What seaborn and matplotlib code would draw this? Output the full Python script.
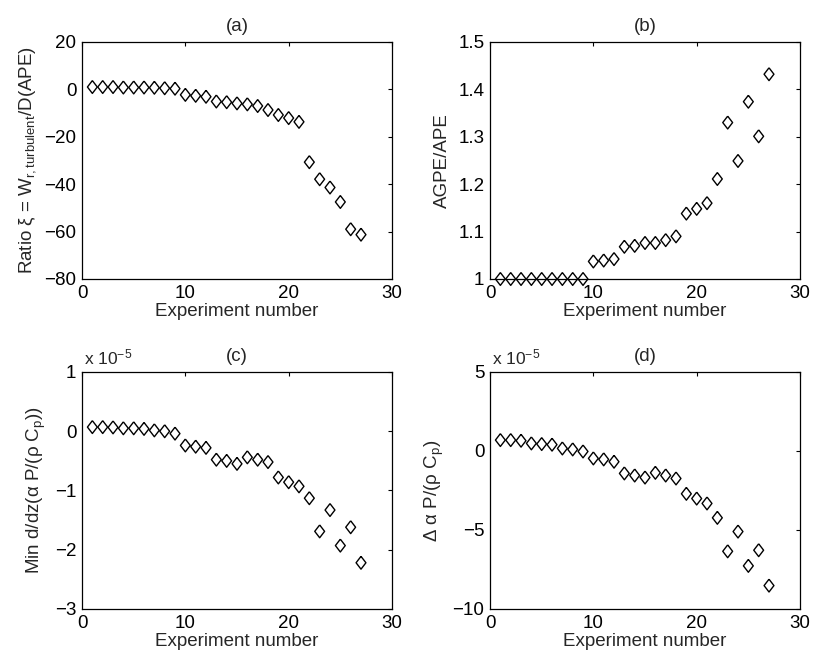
import matplotlib
matplotlib.use("Agg")
import matplotlib.pyplot as plt
import seaborn as sns
import pandas as pd
from matplotlib.ticker import FuncFormatter

# experiment numbers
experiments = list(range(1, 28))

# (a) ratio xi
ratio_xi = [1.0, 1.0, 1.0, 0.8, 0.8, 0.8, 0.7, 0.5, 0.3, -2.3, -2.7, -3.1, -5.1, -5.4,
            -5.9, -6.3, -7.0, -8.7, -10.8, -12.1, -13.7, -30.7, -37.9, -41.4, -47.5, -59.0, -61.3]

# (b) AGPE/APE
agpe_ape = [1.0, 1.0, 1.0, 1.0, 1.0, 1.0, 1.0, 1.0, 1.0, 1.037, 1.039, 1.042, 1.068, 1.070,
            1.076, 1.076, 1.082, 1.090, 1.138, 1.148, 1.160, 1.211, 1.330, 1.249, 1.374, 1.301, 1.432]

# (c) min d/dz(alpha P/(rho Cp))
min_dz = [0.07e-5, 0.07e-5, 0.065e-5, 0.05e-5, 0.05e-5, 0.04e-5, 0.015e-5, 0.0, -0.04e-5,
          -0.24e-5, -0.26e-5, -0.28e-5, -0.48e-5, -0.50e-5, -0.55e-5, -0.44e-5, -0.48e-5,
          -0.52e-5, -0.78e-5, -0.86e-5, -0.93e-5, -1.13e-5, -1.69e-5, -1.33e-5, -1.93e-5,
          -1.62e-5, -2.22e-5]

# (d) delta alpha P/(rho Cp)
delta_ap = [0.69e-5, 0.69e-5, 0.65e-5, 0.48e-5, 0.44e-5, 0.40e-5, 0.16e-5, 0.10e-5, -0.03e-5,
            -0.47e-5, -0.53e-5, -0.68e-5, -1.42e-5, -1.55e-5, -1.68e-5, -1.38e-5, -1.55e-5,
            -1.74e-5, -2.71e-5, -3.01e-5, -3.32e-5, -4.23e-5, -6.35e-5, -5.10e-5, -7.27e-5,
            -6.28e-5, -8.52e-5]

sns.set_style("white")
plt.rcParams['font.family'] = ['Liberation Sans', 'DejaVu Sans']
plt.rcParams['mathtext.fontset'] = 'custom'
plt.rcParams['mathtext.rm'] = 'Liberation Sans'
plt.rcParams['mathtext.it'] = 'Liberation Sans:italic'
plt.rcParams['mathtext.sf'] = 'Liberation Sans'

FS = 13.5
diamond = [(0, 1.3), (1, 0), (0, -1.3), (-1, 0), (0, 1.3)]


def fmt(scale):
    # matlab style labels: %g and a real minus sign
    return FuncFormatter(lambda v, p: ('%g' % round(v / scale, 6)).replace('-', '\u2212'))


fig, axes = plt.subplots(2, 2, figsize=(8.17, 6.61), dpi=100)
fig.subplots_adjust(left=0.1004, right=0.9792, bottom=0.0787, top=0.9365,
                    wspace=0.3163, hspace=0.3924)

panels = [
    (axes[0, 0], ratio_xi, '(a)', 'Ratio \u03be = W$_{\\rm r,turbulent}$/D(APE)', (-80, 20), [-80, -60, -40, -20, 0, 20], 1.0),
    (axes[0, 1], agpe_ape, '(b)', 'AGPE/APE', (1.0, 1.5), [1.0, 1.1, 1.2, 1.3, 1.4, 1.5], 1.0),
    (axes[1, 0], min_dz, '(c)', 'Min d/dz(\u03b1 P/(\u03c1 C$_{\\rm p}$))', (-3e-5, 1e-5), [-3e-5, -2e-5, -1e-5, 0, 1e-5], 1e-5),
    (axes[1, 1], delta_ap, '(d)', '\u0394 \u03b1 P/(\u03c1 C$_{\\rm p}$)', (-10e-5, 5e-5), [-10e-5, -5e-5, 0, 5e-5], 1e-5),
]

for ax, vals, title, ylab, ylim, yticks, scale in panels:
    df = pd.DataFrame({'exp': experiments, 'val': vals})
    sns.scatterplot(data=df, x='exp', y='val', ax=ax, marker=diamond, s=85,
                    facecolor='none', edgecolor='black', linewidth=1.0, clip_on=False, zorder=3)
    ax.set_xlim(0, 30)
    ax.set_ylim(*ylim)
    ax.set_xticks([0, 10, 20, 30])
    ax.set_yticks(yticks)
    ax.xaxis.set_major_formatter(fmt(1.0))
    ax.yaxis.set_major_formatter(fmt(scale))
    if scale != 1.0:
        ax.text(0.005, 1.02, 'x 10$^{\u2212\\rm 5}$', transform=ax.transAxes, ha='left', va='bottom',
                fontsize=12.5)
    ax.set_title(title, fontsize=FS, pad=8)
    ax.set_xlabel('Experiment number', fontsize=FS, labelpad=1)
    ax.set_ylabel(ylab, fontsize=FS, labelpad=5)
    ax.tick_params(direction='in', length=3, width=0.8, labelsize=FS, pad=4,
                   top=True, right=True, colors='black')
    for sp in ax.spines.values():
        sp.set_color('black')
        sp.set_linewidth(0.9)
        sp.set_visible(True)

fig.savefig('out.png', dpi=100)
